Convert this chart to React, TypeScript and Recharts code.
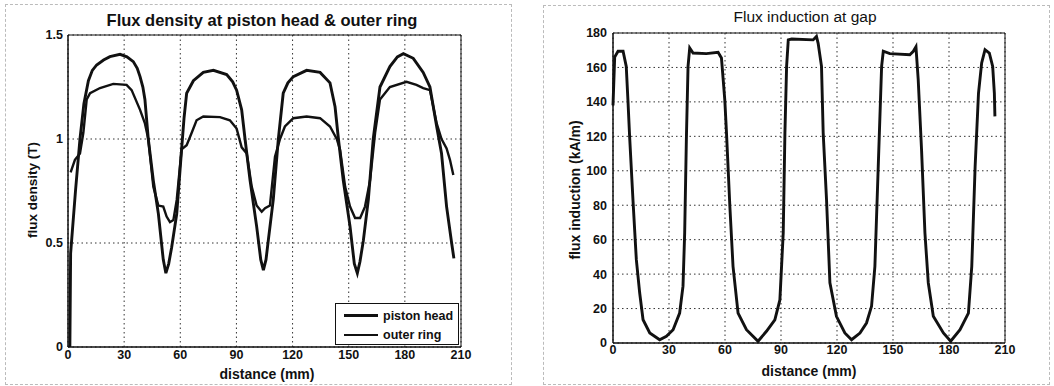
import { LineChart, Line, XAxis, YAxis, CartesianGrid, ReferenceArea } from "recharts";

// distance (mm) / flux density (T)
const pistonDistance = [1.0, 1.4, 4, 6.4, 8.5, 10.9, 13, 15.3, 19, 22.4, 27.8, 31.5, 34.9, 37, 38.5, 40, 41.1, 42.9, 45.6, 48.3, 50.9, 52.3, 53.8, 55.4, 58.1, 60.7, 62, 63.4, 67, 72.3, 77.7, 84.8, 88, 90.1, 92.8, 94.6, 97.3, 100.8, 103, 104.4, 105.8, 107, 109.7, 112.4, 115, 117.5, 120.4, 127.5, 134.7, 140, 142.7, 144.5, 147.1, 150.7, 153, 154.6, 156, 157.8, 160.5, 163.1, 166.7, 172, 176, 179.2, 184.5, 189.8, 193.4, 197, 199.6, 202.3, 205, 206.2];
const pistonFlux = [0.0, 0.45, 0.75, 1.0, 1.17, 1.28, 1.33, 1.356, 1.38, 1.396, 1.407, 1.395, 1.372, 1.34, 1.3, 1.25, 1.19, 1.0, 0.8, 0.64, 0.42, 0.355, 0.4, 0.48, 0.64, 0.95, 1.1, 1.22, 1.28, 1.32, 1.33, 1.31, 1.275, 1.235, 1.14, 1.0, 0.8, 0.58, 0.42, 0.37, 0.42, 0.51, 0.71, 1.0, 1.22, 1.27, 1.3, 1.33, 1.32, 1.27, 1.155, 1.0, 0.8, 0.58, 0.4, 0.355, 0.41, 0.51, 0.71, 1.0, 1.25, 1.348, 1.395, 1.41, 1.388, 1.32, 1.25, 1.06, 0.93, 0.675, 0.5, 0.426];

const ringDistance = [1.4, 3.7, 6.4, 8.2, 10, 11.8, 17.1, 24.2, 31.3, 34, 38.5, 41.1, 42.9, 45.6, 48.3, 50.9, 52.7, 54.5, 56.3, 58.1, 60.7, 63.4, 66.1, 68.7, 72.3, 81.2, 86.5, 90.1, 92.8, 95.5, 98.2, 100.8, 103.5, 105.3, 107.9, 110.6, 113.3, 115.9, 120.4, 127.5, 134.7, 140, 143.6, 145.4, 148.1, 150.7, 153.4, 156.1, 158.7, 161.4, 164.1, 166.7, 172, 180.9, 186.2, 189.8, 193.4, 197, 199.6, 202.3, 204.1, 205.9];
const ringFlux = [0.84, 0.9, 0.93, 1.03, 1.19, 1.22, 1.245, 1.265, 1.26, 1.235, 1.14, 1.075, 1.0, 0.77, 0.68, 0.675, 0.627, 0.6, 0.61, 0.707, 0.95, 0.97, 1.03, 1.09, 1.108, 1.105, 1.09, 1.05, 0.96, 0.93, 0.77, 0.68, 0.65, 0.667, 0.68, 0.915, 1.0, 1.06, 1.1, 1.108, 1.1, 1.06, 1.0, 0.947, 0.77, 0.675, 0.62, 0.62, 0.675, 0.8, 1.03, 1.19, 1.25, 1.275, 1.26, 1.245, 1.235, 1.075, 1.0, 0.955, 0.9, 0.827];

// distance (mm) / flux induction (kA/m), right panel
const gapDistance = [0, 0.9, 2.7, 5.4, 7.1, 8, 8.9, 10.7, 12.5, 14.3, 16.1, 19.7, 25, 28.6, 32.2, 35.7, 37.5, 38.4, 39.3, 40.2, 41.1, 42.9, 50, 56.3, 58.1, 59.9, 60.8, 62.6, 64.3, 67, 71.5, 77.7, 82.2, 86.7, 89.4, 91.2, 92.1, 93, 93.9, 95.7, 107.2, 109, 109.9, 111.7, 112.6, 114.4, 116.2, 119.7, 124.2, 127.8, 132.3, 135.8, 138.5, 140.3, 142.1, 143.9, 144.8, 148.3, 159, 160.9, 162.3, 163.5, 165.3, 167.1, 168.9, 171.6, 177, 180.9, 185.9, 190.4, 192.2, 194, 195.8, 197.5, 199.3, 201.6, 203.4, 204.3, 204.6];
const gapInduction = [138, 166, 169.4, 169.4, 160.6, 141, 120, 83, 48.4, 29, 13.5, 5.8, 1.9, 3.9, 7.7, 17.4, 33, 64, 118, 160.6, 171.3, 168.4, 168, 168.8, 165.5, 141, 122, 79.4, 44.5, 17.4, 7.7, 1, 6.8, 13.5, 25, 64, 122, 160.6, 176, 176.5, 176, 178, 174, 160.6, 122, 83, 35, 15.5, 5.8, 1.9, 5.8, 11.6, 21.3, 44.5, 102.6, 160.6, 169.4, 168, 167.4, 169.4, 172, 153, 112, 64, 35, 15.5, 5.8, 1, 7.7, 17.4, 44.5, 102.6, 145, 162.6, 170.3, 168.4, 160.6, 145, 131.6];

const distanceTicks = [0, 30, 60, 90, 120, 150, 180, 210];
const fluxTicks = [0, 0.5, 1, 1.5];
const inductionTicks = [0, 20, 40, 60, 80, 100, 120, 140, 160, 180];
const legendNames = ["piston head", "outer ring"];

const zip = (xs: number[], ys: number[]) => xs.map((x, i) => ({ x, y: ys[i] }));
const pistonData = zip(pistonDistance, pistonFlux);
const ringData = zip(ringDistance, ringFlux);
const gapData = zip(gapDistance, gapInduction);

const FONT = "Arial, 'Liberation Sans', sans-serif";
const tick = { fill: "#111", fontSize: 12.5, fontWeight: 700, fontFamily: FONT };
const axisLine = { stroke: "#111", strokeWidth: 1 };

const txt = (style: React.CSSProperties): React.CSSProperties => ({
  position: "absolute",
  fontFamily: FONT,
  color: "#111",
  whiteSpace: "nowrap",
  lineHeight: 1,
  ...style,
});

export default function App() {
  return (
    <div style={{ position: "absolute", left: 0, top: 0, width: 1054, height: 386, background: "#fff" }}>
      <div style={{ position: "absolute", left: 5, top: 4, width: 505, height: 379, border: "1px dashed #bbb" }} />
      <div style={{ position: "absolute", left: 543, top: 5, width: 505, height: 378, border: "1px dashed #bbb" }} />

      {/* left panel */}
      <div style={{ position: "absolute", left: 0, top: 0 }}>
        <LineChart width={520} height={386} margin={{ top: 35, right: 59, bottom: 0, left: 0 }}>
          <CartesianGrid stroke="#333" strokeDasharray="1.5 3" />
          <XAxis type="number" dataKey="x" domain={[0, 210]} ticks={distanceTicks} tick={tick}
            axisLine={axisLine} tickLine={false} height={39} tickSize={3} tickMargin={0} />
          <YAxis type="number" domain={[0, 1.5]} ticks={fluxTicks} tick={tick}
            axisLine={axisLine} tickLine={false} width={68} tickSize={2} tickMargin={3} />
          <ReferenceArea x1={0} x2={210} y1={0} y2={1.5} fill="none" stroke="#111" strokeWidth={1} ifOverflow="visible" />
          <Line data={pistonData} dataKey="y" name="piston head" type="linear"
            stroke="#111" strokeWidth={2.9} dot={false} isAnimationActive={false} />
          <Line data={ringData} dataKey="y" name="outer ring" type="linear"
            stroke="#111" strokeWidth={2.4} dot={false} isAnimationActive={false} />
        </LineChart>
      </div>
      <div style={{ position: "absolute", left: 335, top: 303, width: 124, height: 42, background: "#fff", border: "1px solid #111", padding: "2px 0 0 8px", boxSizing: "border-box" }}>
        {legendNames.map((name, i) => (
          <div key={name} style={{ display: "flex", alignItems: "center", height: 19 }}>
            <span style={{ width: 34, height: i === 0 ? 3 : 2, background: "#111", marginRight: 5 }} />
            <span style={{ fontFamily: FONT, fontSize: 12.5, fontWeight: 700, color: "#111" }}>{name}</span>
          </div>
        ))}
      </div>
      <div style={txt({ left: 262, top: 20, transform: "translate(-50%, -50%)", fontSize: 16.5, fontWeight: 700 })}>
        Flux density at piston head &amp; outer ring
      </div>
      <div style={txt({ left: 267, top: 374, transform: "translate(-50%, -50%)", fontSize: 14, fontWeight: 700 })}>
        distance (mm)
      </div>
      <div style={txt({ left: 33, top: 190, transform: "translate(-50%, -50%) rotate(-90deg)", fontSize: 13.5, fontWeight: 700 })}>
        flux density (T)
      </div>

      {/* right panel */}
      <div style={{ position: "absolute", left: 530, top: 0 }}>
        <LineChart width={524} height={386} margin={{ top: 33, right: 49, bottom: 0, left: 0 }}>
          <CartesianGrid stroke="#333" strokeDasharray="1.5 3" />
          <XAxis type="number" dataKey="x" domain={[0, 210]} ticks={distanceTicks} tick={tick}
            axisLine={axisLine} tickLine={false} height={43} tickSize={2} tickMargin={0} />
          <YAxis type="number" domain={[0, 180]} ticks={inductionTicks} tick={tick}
            axisLine={axisLine} tickLine={false} width={83} tickSize={2} tickMargin={4} />
          <ReferenceArea x1={0} x2={210} y1={0} y2={180} fill="none" stroke="#111" strokeWidth={1} ifOverflow="visible" />
          <Line data={gapData} dataKey="y" name="flux induction" type="linear"
            stroke="#111" strokeWidth={2.9} dot={false} isAnimationActive={false} />
        </LineChart>
      </div>
      <div style={txt({ left: 805, top: 17, transform: "translate(-50%, -50%)", fontSize: 15.5 })}>
        Flux induction at gap
      </div>
      <div style={txt({ left: 809, top: 371, transform: "translate(-50%, -50%)", fontSize: 14, fontWeight: 700 })}>
        distance (mm)
      </div>
      <div style={txt({ left: 575, top: 190, transform: "translate(-50%, -50%) rotate(-90deg)", fontSize: 14, fontWeight: 700 })}>
        flux induction (kA/m)
      </div>
    </div>
  );
}
